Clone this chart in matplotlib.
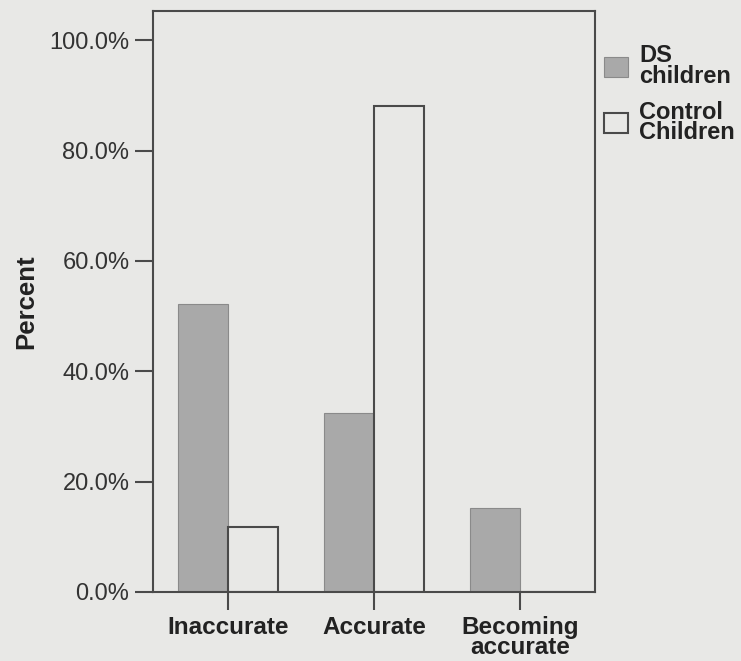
import matplotlib
matplotlib.use("Agg")
import matplotlib.pyplot as plt
from matplotlib.patches import Patch
import numpy as np

categories = ["Inaccurate", "Accurate", "Becoming\naccurate"]
ds_children = [52.2, 32.4, 15.2]
control_children = [11.8, 88.0, 0.0]
series_labels = ["DS\nchildren", "Control\nChildren"]
y_ticks = [0, 20, 40, 60, 80, 100]

bg = "#e8e8e6"
ds_color = "#a9a9a9"
line_color = "#4a4a4a"

plt.rcParams["font.family"] = ["Liberation Sans", "DejaVu Sans"]

fig = plt.figure(figsize=(7.41, 6.61), dpi=100, facecolor=bg)
ax = fig.add_axes([0.2065, 0.1044, 0.5965, 0.879], facecolor=bg)

x = np.arange(len(categories))
w = 0.345
ax.bar(x - w, ds_children, width=w, align="edge", color=ds_color,
       edgecolor="#8a8a8a", linewidth=0.8, zorder=2)
ax.bar(x, control_children, width=w, align="edge", color=bg,
       edgecolor=line_color, linewidth=1.5, zorder=2)

ax.set_xlim(-0.514, 2.514)
ax.set_ylim(0, 105.3)
ax.set_yticks(y_ticks)
ax.set_yticklabels([f"{v:.1f}%" for v in y_ticks], fontsize=17, color="#333333")
ax.set_xticks(x)
ax.set_xticklabels(categories, fontsize=17.5, fontweight="bold", color="#222222",
                   linespacing=0.86)
ax.tick_params(axis="both", direction="out", length=13, width=1.5, color=line_color)
ax.tick_params(axis="y", pad=4)
ax.tick_params(axis="x", pad=4)

for s in ax.spines.values():
    s.set_color(line_color)
    s.set_linewidth(1.5)

ax.set_ylabel("Percent", fontsize=18.5, fontweight="bold", color="#222222", labelpad=8)

handles = [Patch(facecolor=ds_color, edgecolor="#8a8a8a", linewidth=0.8),
           Patch(facecolor=bg, edgecolor=line_color, linewidth=1.5)]
fig.legend(handles, series_labels, loc="upper left", bbox_to_anchor=(0.803, 0.947),
           frameon=False, prop={"size": 17, "weight": "bold"},
           handlelength=0.98, handleheight=0.9, handletextpad=0.5,
           labelspacing=0.55, borderaxespad=0)
for t in fig.legends[0].get_texts():
    t.set_linespacing(0.85)
    t.set_color("#222222")

fig.savefig("out.png", dpi=100, facecolor=bg)
